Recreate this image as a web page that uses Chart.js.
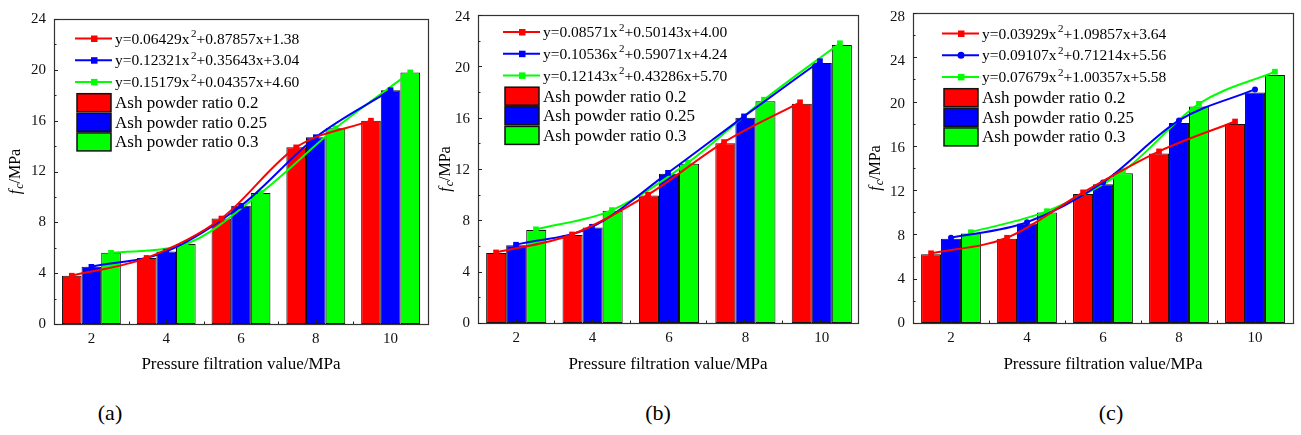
<!DOCTYPE html>
<html>
<head>
<meta charset="utf-8">
<script src="https://cdn.jsdelivr.net/npm/chart.js@4.4.1/dist/chart.umd.min.js"></script>
<style>
  html, body { margin: 0; padding: 0; background: #fff; }
  body { width: 1301px; height: 435px; position: relative; overflow: hidden; }
  canvas { position: absolute; top: 0; }
  .lab { position: absolute; font: 22px "Liberation Serif", "Times New Roman", serif; color: #000; transform: translate(-50%, -50%); white-space: nowrap; }
</style>
</head>
<body>
<canvas id="ca" width="433" height="380" style="left:0px"></canvas>
<canvas id="cal" width="433" height="380" style="left:0px"></canvas>
<canvas id="cb" width="432" height="380" style="left:430px"></canvas>
<canvas id="cbl" width="432" height="380" style="left:430px"></canvas>
<canvas id="cc" width="441" height="380" style="left:860px"></canvas>
<canvas id="ccl" width="441" height="380" style="left:860px"></canvas>
<div class="lab" style="left:110px;top:413px">(a)</div>
<div class="lab" style="left:658px;top:413px">(b)</div>
<div class="lab" style="left:1111px;top:413px">(c)</div>
<script>
// ---------------- DATA ----------------
const categories = ['2', '4', '6', '8', '10'];
const seriesNames = ['Ash powder ratio 0.2', 'Ash powder ratio 0.25', 'Ash powder ratio 0.3'];
const seriesColors = ['#ff0000', '#0000ff', '#00ff00'];
const xTitle = 'Pressure filtration value/MPa';

// panel (a)
const aRatio02  = [3.8, 5.2, 8.3, 13.9, 16.0];
const aRatio025 = [4.5, 5.7, 9.3, 14.7, 18.4];
const aRatio03  = [5.6, 6.3, 10.3, 15.4, 19.8];
const aFits = ['y=0.06429x²+0.87857x+1.38', 'y=0.12321x²+0.35643x+3.04', 'y=0.15179x²+0.04357x+4.60'];
const aYTicks = [0, 4, 8, 12, 16, 20, 24];

// panel (b)
const bRatio02  = [5.5, 6.9, 10.0, 14.1, 17.2];
const bRatio025 = [6.1, 7.5, 11.7, 16.1, 20.4];
const bRatio03  = [7.3, 8.8, 12.5, 17.4, 21.8];
const bFits = ['y=0.08571x²+0.50143x+4.00', 'y=0.10536x²+0.59071x+4.24', 'y=0.12143x²+0.43286x+5.70'];
const bYTicks = [0, 4, 8, 12, 16, 20, 24];

// panel (c)
const cRatio02  = [6.3, 7.7, 11.8, 15.5, 18.2];
const cRatio025 = [7.7, 9.1, 12.7, 18.3, 21.1];
const cRatio03  = [8.2, 10.1, 13.7, 19.8, 22.7];
const cFits = ['y=0.03929x²+1.09857x+3.64', 'y=0.09107x²+0.71214x+5.56', 'y=0.07679x²+1.00357x+5.58'];
const cYTicks = [0, 4, 8, 12, 16, 20, 24, 28];

// ---------------- LAYOUT / STYLE ----------------
const FONT = '"Liberation Serif", "Times New Roman", serif';
const CAT_PCT = 0.787;

const panels = [
  { id: 'ca', lid: 'cal', vals: [aRatio02, aRatio025, aRatio03], fits: aFits, yTicks: aYTicks,
    pad: { left: 0, top: 19, right: 5, bottom: 0 }, yW: 54, bottom: 324,
    legend: { x: 21, y: 19.5 }, yTitleDx: -39, markers: ['rect', 'rect', 'rect'] },
  { id: 'cb', lid: 'cbl', vals: [bRatio02, bRatio025, bRatio03], fits: bFits, yTicks: bYTicks,
    pad: { left: 0, top: 15, right: 2, bottom: 0 }, yW: 48, bottom: 323,
    legend: { x: 25, y: 17 }, yTitleDx: -33, markers: ['rect', 'rect', 'rect'] },
  { id: 'cc', lid: 'ccl', vals: [cRatio02, cRatio025, cRatio03], fits: cFits, yTicks: cYTicks,
    pad: { left: 0, top: 13, right: 8, bottom: 0 }, yW: 53, bottom: 323,
    legend: { x: 29, y: 20.5 }, yTitleDx: -38, markers: ['rect', 'circle', 'rect'] }
];

function drawSupText(ctx, text, x, y, size) {
  const parts = text.split('²');
  ctx.font = size + 'px ' + FONT;
  ctx.textBaseline = 'alphabetic';
  ctx.textAlign = 'left';
  let cx = x;
  const base = y + size * 0.33;
  ctx.fillText(parts[0], cx, base);
  cx += ctx.measureText(parts[0]).width;
  if (parts.length > 1) {
    ctx.font = Math.round(size * 0.68) + 'px ' + FONT;
    ctx.fillText('2', cx + 1.5, base - size * 0.42);
    cx += ctx.measureText('2').width + 1.5;
    ctx.font = size + 'px ' + FONT;
    ctx.fillText(parts[1], cx, base);
  }
}

// draws frame, inward ticks, axis titles and legend on the overlay (line) chart
const decorPlugin = {
  id: 'decor',
  afterDraw(chart, args, opts) {
    const ctx = chart.ctx;
    const ca = chart.chartArea;
    const xs = chart.scales.x, ys = chart.scales.y;
    ctx.save();
    // frame
    ctx.strokeStyle = '#333';
    ctx.lineWidth = 1.2;
    ctx.strokeRect(Math.round(ca.left) + 0.5, Math.round(ca.top) + 0.5,
                   Math.round(ca.right - ca.left), Math.round(ca.bottom - ca.top));
    // y ticks (inward)
    ctx.lineWidth = 1;
    ctx.strokeStyle = '#222';
    ctx.beginPath();
    ys.ticks.forEach(t => {
      const py = Math.round(ys.getPixelForValue(t.value)) + 0.5;
      ctx.moveTo(ca.left, py); ctx.lineTo(ca.left + 4, py);
    });
    for (let i = 0; i < ys.ticks.length - 1; i++) {
      const mv = (ys.ticks[i].value + ys.ticks[i + 1].value) / 2;
      const py = Math.round(ys.getPixelForValue(mv)) + 0.5;
      ctx.moveTo(ca.left, py); ctx.lineTo(ca.left + 2.5, py);
    }
    // x ticks (inward) at category centres and boundaries
    for (let i = 0; i < categories.length; i++) {
      const px = Math.round(xs.getPixelForValue(i)) + 0.5;
      ctx.moveTo(px, ca.bottom); ctx.lineTo(px, ca.bottom - 4);
      if (i < categories.length - 1) {
        const bx = Math.round(xs.getPixelForValue(i + 0.5)) + 0.5;
        ctx.moveTo(bx, ca.bottom); ctx.lineTo(bx, ca.bottom - 2.5);
      }
    }
    ctx.stroke();

    // x title
    ctx.fillStyle = '#000';
    ctx.font = '17px ' + FONT;
    ctx.textAlign = 'center';
    ctx.textBaseline = 'middle';
    ctx.fillText(xTitle, (ca.left + ca.right) / 2, 365);

    // y title  f_c/MPa (rotated)
    ctx.save();
    ctx.translate(ca.left + opts.yTitleDx, (ca.top + ca.bottom) / 2);
    ctx.rotate(-Math.PI / 2);
    ctx.textBaseline = 'alphabetic';
    ctx.textAlign = 'left';
    ctx.font = 'italic 16px ' + FONT;
    const wf = ctx.measureText('f').width;
    ctx.font = 'italic 12px ' + FONT;
    const wc = ctx.measureText('c').width;
    ctx.font = '16px ' + FONT;
    const wm = ctx.measureText('/MPa').width;
    let sx = -(wf + wc + wm + 1) / 2;
    ctx.font = 'italic 16px ' + FONT;
    ctx.fillText('f', sx, 5); sx += wf + 1;
    ctx.font = 'italic 12px ' + FONT;
    ctx.fillText('c', sx, 8); sx += wc;
    ctx.font = '16px ' + FONT;
    ctx.fillText('/MPa', sx, 5);
    ctx.restore();

    // legend
    const lg = opts.legend;
    const x0 = ca.left + lg.x, y0 = ca.top + lg.y;
    const rows = [0, 21.7, 43.4, 64.2, 83.8, 103.4];
    chart.data.datasets.forEach((d, i) => {
      const y = y0 + rows[i];
      ctx.strokeStyle = d.borderColor;
      ctx.lineWidth = 2;
      ctx.beginPath(); ctx.moveTo(x0, y); ctx.lineTo(x0 + 37, y); ctx.stroke();
      ctx.fillStyle = d.borderColor;
      if (d.pointStyle === 'circle') {
        ctx.beginPath(); ctx.arc(x0 + 19, y, 3.5, 0, Math.PI * 2); ctx.fill();
      } else {
        ctx.fillRect(x0 + 16, y - 3, 6.5, 6.5);
      }
      ctx.fillStyle = '#000';
      drawSupText(ctx, d.label, x0 + 40, y, 15.5);
    });
    opts.barNames.forEach((name, i) => {
      const y = y0 + rows[3 + i];
      ctx.fillStyle = opts.barColors[i];
      ctx.fillRect(x0 + 2, y - 9, 34, 18);
      ctx.strokeStyle = '#111';
      ctx.lineWidth = 1.5;
      ctx.strokeRect(x0 + 2, y - 9, 34, 18);
      ctx.fillStyle = '#000';
      ctx.font = '17px ' + FONT;
      ctx.textAlign = 'left';
      ctx.textBaseline = 'alphabetic';
      ctx.fillText(name, x0 + 40, y + 5.5);
    });
    ctx.restore();
  }
};

panels.forEach(p => {
  const yMax = p.yTicks[p.yTicks.length - 1];
  const yScale = (showTicks) => ({
    type: 'linear', min: 0, max: yMax,
    grid: { display: false, drawTicks: false }, border: { display: false },
    ticks: { display: showTicks, color: '#111', font: { family: FONT, size: 15 }, padding: 8 },
    afterBuildTicks: s => { s.ticks = p.yTicks.map(v => ({ value: v })); },
    afterFit: s => { s.width = p.yW; }
  });

  // bars (category axis)
  new Chart(document.getElementById(p.id), {
    type: 'bar',
    data: {
      labels: categories,
      datasets: p.vals.map((v, k) => ({
        label: seriesNames[k], data: v,
        backgroundColor: seriesColors[k], borderColor: '#111', borderWidth: 1,
        borderSkipped: false, categoryPercentage: CAT_PCT, barPercentage: 1.0
      }))
    },
    options: {
      responsive: false, animation: false,
      layout: { padding: p.pad },
      plugins: { legend: { display: false }, tooltip: { enabled: false } },
      scales: {
        x: {
          type: 'category', offset: true,
          grid: { display: false, drawTicks: false }, border: { display: false },
          ticks: { color: '#111', font: { family: FONT, size: 15 }, padding: 6, maxRotation: 0 },
          afterFit: s => { s.height = 380 - p.bottom; }
        },
        y: yScale(true)
      }
    }
  });

  // fitted curves through the bar tops (linear x axis aligned with category slots)
  const offsets = [-CAT_PCT / 3, 0, CAT_PCT / 3];
  new Chart(document.getElementById(p.lid), {
    type: 'line',
    data: {
      datasets: p.vals.map((v, k) => ({
        label: p.fits[k],
        data: v.map((y, i) => ({ x: i + offsets[k], y: y })),
        borderColor: seriesColors[k], backgroundColor: seriesColors[k],
        borderWidth: 2, pointStyle: p.markers[k], pointRadius: p.markers[k] === 'circle' ? 3 : 4,
        pointBorderWidth: 0, cubicInterpolationMode: 'monotone', fill: false
      }))
    },
    plugins: [decorPlugin],
    options: {
      responsive: false, animation: false,
      layout: { padding: p.pad },
      plugins: {
        legend: { display: false }, tooltip: { enabled: false },
        decor: { legend: p.legend, yTitleDx: p.yTitleDx, barNames: seriesNames, barColors: seriesColors }
      },
      scales: {
        x: {
          type: 'linear', min: -0.5, max: 4.5,
          grid: { display: false, drawTicks: false }, border: { display: false },
          ticks: { display: false },
          afterFit: s => { s.height = 380 - p.bottom; }
        },
        y: yScale(false)
      }
    }
  });
});
</script>
</body>
</html>
